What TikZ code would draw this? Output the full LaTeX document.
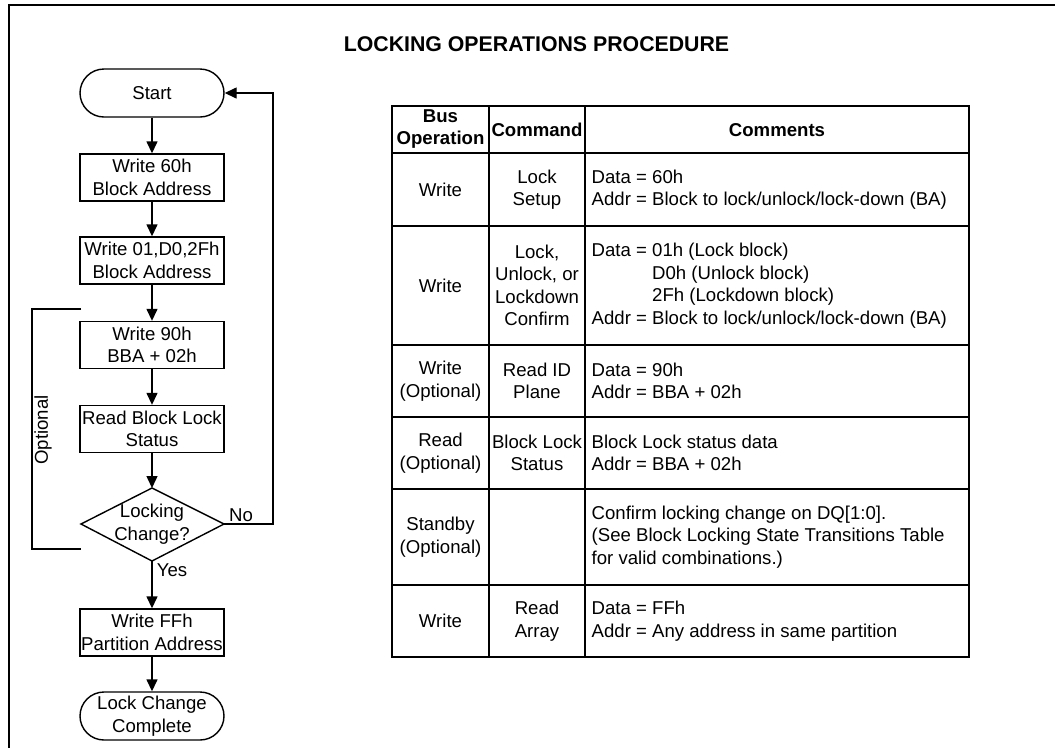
\documentclass[tikz,border=0pt]{standalone}
\usepackage{fontspec}
\setmainfont{Liberation Sans}
\usepackage{tikz}
\usetikzlibrary{arrows.meta}

\begin{document}
\begin{tikzpicture}[x=1pt, y=-1pt, line width=1.4pt,
    font=\fontsize{18.6}{22.5}\selectfont,
    >={Triangle[length=12pt, width=11pt]},
    box/.style={draw, rectangle, minimum width=144pt, minimum height=47pt, inner sep=1pt, align=center},
    term/.style={box, minimum height=48pt, rounded corners=24pt},
    cell/.style={align=center, inner sep=0pt},
    note/.style={align=left, anchor=west, inner sep=0pt},
    grid/.style={line width=2pt}]
  \useasboundingbox (0,0) rectangle (1055,748);
  \draw [line width=2.5pt] (1055,5) -- (9,5) -- (9,748);

  \node [font=\fontsize{21.3}{24}\selectfont\bfseries] (title) at (536.5,44.5) {LOCKING OPERATIONS PROCEDURE};

  % flow chart
  \node [term] (start) at (152,93) {Start};
  \node [box] (wr60) at (152,177.5) {Write 60h\\Block Address};
  \node [box] (wr01) at (152,260.5) {Write 01,D0,2Fh\\Block Address};
  \node [box] (wr90) at (152,345) {Write 90h\\BBA + 02h};
  \node [box] (rdst) at (152,429) {Read Block Lock\\Status};
  \node [cell] (chg) at (152,524) {Locking\\Change?};
  \coordinate (chgN) at (152,488);
  \coordinate (chgE) at (224,524);
  \coordinate (chgS) at (152,561);
  \coordinate (chgW) at (81,524);
  \draw (chgW) -- (chgN) -- (chgE) -- (chgS) -- cycle;
  \node [box] (wrff) at (152,632.5) {Write FFh\\Partition Address};
  \node [term] (done) at (152,716) {Lock Change\\Complete};

  \draw [->] (start) -- (wr60);
  \draw [->] (wr60) -- (wr01);
  \draw [->] (wr01) -- (wr90);
  \draw [->] (wr90) -- (rdst);
  \draw [->] (rdst) -- (chgN);
  \draw [->] (chgS) -- (wrff);
  \draw [->] (wrff) -- (done);
  \coordinate (back) at (273,524);
  \draw [->] (chgE) -- (back) |- (start);
  \node [cell] (nolbl) at (241,515) {No};
  \node [cell] (yeslbl) at (172,570) {Yes};

  % optional bracket
  \coordinate (optT) at (81,309);
  \coordinate (optB) at (81,549);
  \draw [line width=1.2pt] (optT) -- (32,309) -- (32,549) -- (optB);
  \node [cell, rotate=90] (optlbl) at (43,430) {Optional};

  % table
  \draw [grid] (392,106) rectangle (969,657);
  \draw [grid] (489,106) -- (489,657);
  \draw [grid] (585,106) -- (585,657);
  \foreach \y in {153,226,345,417,489,585}
    \draw [grid] (392,\y) -- (969,\y);

  \node [cell, font=\fontsize{18.6}{21.5}\selectfont\bfseries] (hbus) at (440.5,129) {Bus\\Operation};
  \node [cell, font=\fontsize{18.6}{21.5}\selectfont\bfseries] (hcmd) at (537,130) {Command};
  \node [cell, font=\fontsize{18.6}{21.5}\selectfont\bfseries] (hcom) at (777,130) {Comments};

  \node [cell] (op1) at (440.5,189.5) {Write};
  \node [cell] (cmd1) at (537,189.5) {Lock\\Setup};
  \node [note] (com1) at (591,189.5) {Data = 60h\\Addr = Block to lock/unlock/lock-down (BA)};

  \node [cell] (op2) at (440.5,285.5) {Write};
  \node [cell] (cmd2) at (537,285.5) {Lock,\\Unlock, or\\Lockdown\\Confirm};
  \node [note] (com2) at (591,285.5) {Data = 01h (Lock block)\\
    \phantom{Data = }D0h (Unlock block)\\
    \phantom{Data = }2Fh (Lockdown block)\\
    Addr = Block to lock/unlock/lock-down (BA)};

  \node [cell] (op3) at (440.5,381) {Write\\(Optional)};
  \node [cell] (cmd3) at (537,381) {Read ID\\Plane};
  \node [note] (com3) at (591,381) {Data = 90h\\Addr = BBA + 02h};

  \node [cell] (op4) at (440.5,453) {Read\\(Optional)};
  \node [cell] (cmd4) at (537,453) {Block Lock\\Status};
  \node [note] (com4) at (591,453) {Block Lock status data\\Addr = BBA + 02h};

  \node [cell] (op5) at (440.5,537) {Standby\\(Optional)};
  \node [note] (com5) at (591,537) {Confirm locking change on DQ[1:0].\\
    (See Block Locking State Transitions Table\\for valid combinations.)};

  \node [cell] (op6) at (440.5,621) {Write};
  \node [cell] (cmd6) at (537,621) {Read\\Array};
  \node [note] (com6) at (591,621) {Data = FFh\\Addr = Any address in same partition};
\end{tikzpicture}
\end{document}
